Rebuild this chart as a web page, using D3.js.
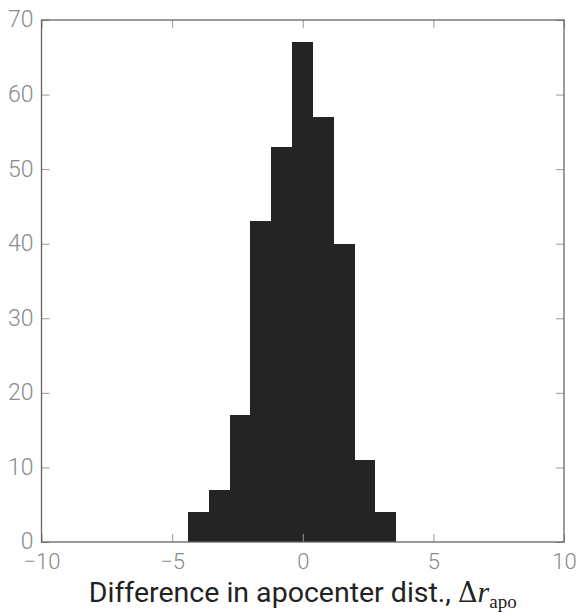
<!DOCTYPE html>
<html>
<head>
<meta charset="utf-8">
<script src="https://cdn.jsdelivr.net/npm/d3@7"></script>
<style>
  html, body { margin: 0; padding: 0; background: #fff; }
  svg { display: block; }
</style>
</head>
<body>
<svg id="chart" width="577" height="613"></svg>
<script>
// Data
const binEdges = [-4.39, -3.595, -2.80, -2.005, -1.21, -0.415, 0.38, 1.175, 1.97, 2.765, 3.56];
const counts   = [4, 7, 17, 43, 53, 67, 57, 40, 11, 4];
const xTicks   = [-10, -5, 0, 5, 10];
const yTicks   = [0, 10, 20, 30, 40, 50, 60, 70];
const xLabelText = "Difference in apocenter dist., ";

const bins = counts.map((c, i) => ({ x0: binEdges[i], x1: binEdges[i + 1], count: c }));

const svg = d3.select("#chart");
const margin = { left: 41.5, right: 13, top: 20, bottom: 71 };
const W = 577, H = 613;

const x = d3.scaleLinear().domain([-10, 10]).range([margin.left, W - margin.right]);
const y = d3.scaleLinear().domain([0, 70]).range([H - margin.bottom, margin.top]);

const axisColor = "#666";
const tickLabelColor = "#8a8a8a";

// Bars
svg.append("g")
  .attr("shape-rendering", "crispEdges")
  .selectAll("rect")
  .data(bins)
  .join("rect")
  .attr("x", d => x(d.x0))
  .attr("y", d => y(d.count))
  .attr("width", d => x(d.x1) - x(d.x0) + 0.5)
  .attr("height", d => y(0) - y(d.count))
  .attr("fill", "#242424");

const tickLen = 8;

// Bottom axis (ticks inward)
const gx = svg.append("g")
  .attr("transform", `translate(0,${y(0)})`)
  .call(d3.axisBottom(x).tickValues(xTicks).tickSizeInner(-tickLen).tickSizeOuter(0).tickPadding(11)
    .tickFormat(d => d < 0 ? "\u2212" + Math.abs(d) : d));
// Top axis
const gxt = svg.append("g")
  .attr("transform", `translate(0,${y(70)})`)
  .call(d3.axisTop(x).tickValues(xTicks).tickSizeInner(-tickLen).tickSizeOuter(0).tickFormat(""));
// Left axis
const gy = svg.append("g")
  .attr("transform", `translate(${x(-10)},0)`)
  .call(d3.axisLeft(y).tickValues(yTicks).tickSizeInner(-tickLen).tickSizeOuter(0).tickPadding(8));
// Right axis
const gyr = svg.append("g")
  .attr("transform", `translate(${x(10)},0)`)
  .call(d3.axisRight(y).tickValues(yTicks).tickSizeInner(-tickLen).tickSizeOuter(0).tickFormat(""));

[gx, gxt, gy, gyr].forEach(g => {
  g.select(".domain").remove();
  g.selectAll(".tick line").attr("stroke", "#999").attr("stroke-width", 1);
  g.selectAll(".tick text")
    .attr("fill", tickLabelColor)
    .style("font-family", "Roboto, sans-serif")
    .style("font-weight", 300)
    .style("font-size", "23px");
});
gx.selectAll(".tick text").attr("dy", "0.71em").style("font-size", "22px");
gy.selectAll(".tick text").attr("dy", "0.3em");

// Frame
svg.append("rect")
  .attr("x", x(-10))
  .attr("y", y(70))
  .attr("width", x(10) - x(-10))
  .attr("height", y(0) - y(70))
  .attr("fill", "none")
  .attr("stroke", axisColor)
  .attr("stroke-width", 1.3);

// X axis label
const lab = svg.append("text")
  .attr("x", (x(-10) + x(10)) / 2)
  .attr("y", 602)
  .attr("text-anchor", "middle")
  .attr("fill", "#222")
  .style("font-family", "Roboto, sans-serif")
  .style("font-size", "28.5px");
lab.append("tspan").text(xLabelText);
lab.append("tspan").style("font-family", "'DejaVu Serif', serif").style("font-size", "27px").text("\u0394");
lab.append("tspan").style("font-family", "'Liberation Serif', serif").style("font-style", "italic").style("font-size", "30px").text("r");
lab.append("tspan").attr("dy", 6).style("font-family", "'Liberation Serif', serif").style("font-size", "19px").text("apo");
</script>
</body>
</html>
